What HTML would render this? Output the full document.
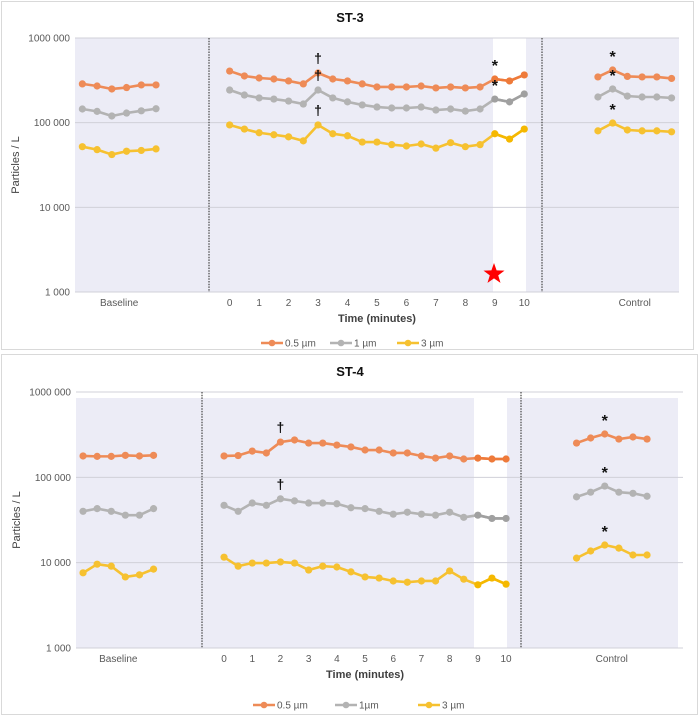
<!DOCTYPE html>
<html><head><meta charset="utf-8">
<style>
body{margin:0;background:#fff;width:700px;height:715px;overflow:hidden;font-family:"Liberation Sans",sans-serif}
svg{display:block}
</style></head>
<body>
<svg id="svg" width="700" height="715" viewBox="0 0 700 715" xmlns="http://www.w3.org/2000/svg"></svg>
<script>
// ST-3 data (particles / L); index 0-5 baseline, 10-30 time 0..10 by 0.5, 35-40 control
const st3Orange = [287,271,250,260,279,279, 407,356,337,328,311,287,386,328,311,287,264,264,264,271,257,264,257,264,328,311,366, 347,419,352,347,347,333];
const st3Grey   = [145,136,120,130,138,146, 243,212,196,190,180,166,243,196,176,162,153,149,149,153,141,145,137,145,190,176,218, 201,250,206,201,201,196];
const st3Yellow = [52,48,42,46,47,49, 94,84,76,72,68,61,94,74,70,59,59,55,53,56,50,58,52,55,74,64,84, 80,99,82,80,80,78];
// ST-4 data
const st4Orange = [178,176,176,181,178,181, 178,180,203,193,259,274,252,252,239,227,209,209,193,193,178,168,178,164,168,164,164, 252,289,322,281,297,281];
const st4Grey   = [40,43,40,36,36,43, 47,40,50,47,56,53,50,50,49,44,43,40,37,39,37,36,39,34,36,33,33, 59,67,79,67,65,60];
const st4Yellow = [7.6,9.6,9.1,6.8,7.2,8.4, 11.6,9.1,9.9,9.9,10.2,9.9,8.2,9.1,8.9,7.8,6.8,6.6,6.1,5.9,6.1,6.1,8.0,6.4,5.5,6.6,5.6, 11.3,13.7,16.1,14.8,12.3,12.3];
const timeTicks = ["0","1","2","3","4","5","6","7","8","9","10"];
const yTicks = [1000000,100000,10000,1000];
const yTickLabels = ["1000 000","100 000","10 000","1 000"];
const seriesNames = ["0.5 µm","1 µm","3 µm"];
const seriesNames4 = ["0.5 µm","1µm","3 µm"];
// annotations: [seriesIndex, pointIndex, symbol]
const st3Marks = [[0,12,"†"],[1,12,"†"],[2,12,"†"],[0,24,"*"],[1,24,"*"],[0,28,"*"],[1,28,"*"],[2,28,"*"]];
const st4Marks = [[0,10,"†"],[1,10,"†"],[0,29,"*"],[1,29,"*"],[2,29,"*"]];

const NS="http://www.w3.org/2000/svg";
const svg=document.getElementById('svg');
function mk(tag,attrs,parent){const e=document.createElementNS(NS,tag);for(const k in attrs)e.setAttribute(k,attrs[k]);(parent||svg).appendChild(e);return e;}
function txt(x,y,s,attrs,parent){const t=mk('text',Object.assign({x:x,y:y},attrs),parent);t.textContent=s;return t;}
const colors=["#ee8b57","#b3b3b3","#f6c130"];
const dark=["#ee7a3a","#a0a0a0","#f5b800"];
// map series index position -> slot index
function slotOf(j){return j<6?j:(j<27?j+4:j+8);}

function drawChart(c){
  const g=mk('g',{},svg);
  
  
  const card=mk('rect',{x:c.cx,y:c.cy,width:c.cw,height:c.ch,fill:'#fff',stroke:'#d9d9d9','stroke-width':1},g);
  
  const yScale=v=>c.top+(6-Math.log10(v))*(c.bottom-c.top)/3;
  const xScale=i=>c.left+(i+0.5)*c.slot;
  // shading
  const s1=mk('rect',{x:c.left,y:c.shadeTop,width:c.bandL-c.left,height:c.bottom-c.shadeTop,fill:'#ececf6'},g);
  
  const s2=mk('rect',{x:c.bandR,y:c.shadeTop,width:c.right-c.bandR,height:c.bottom-c.shadeTop,fill:'#ececf6'},g);
  
  // gridlines
  yTicks.forEach((v,k)=>{
    const y=yScale(v);
    const l=mk('line',{x1:c.left,x2:c.gridR,y1:y,y2:y,stroke:'#d0d0d8','stroke-width':1},g);
    
    const t=txt(c.left-5,y+3.5,yTickLabels[k],{'font-size':'10','fill':'#595959','text-anchor':'end'},g);
    
  });
  // separators
  c.seps.forEach(x=>{
    const l=mk('line',{x1:x,x2:x,y1:c.top,y2:c.bottom,stroke:'#444','stroke-width':1.2,'stroke-dasharray':'1.5,1.2'},g);
    
  });
  // y title
  const yt=txt(0,0,'Particles / L',{'font-size':'11','fill':'#404040','text-anchor':'middle',transform:`translate(${c.left-56},${(c.top+c.bottom)/2}) rotate(-90)`},g);
  
  // title
  const tt=txt(350,c.titleY,c.title,{'font-size':'13','font-weight':'bold','fill':'#111','text-anchor':'middle'},g);
  
  // x labels
  const b=txt(xScale(2.5),c.bottom+14,'Baseline',{'font-size':'10','fill':'#595959','text-anchor':'middle'},g);
  
  const ct=txt(xScale(37.5),c.bottom+14,'Control',{'font-size':'10','fill':'#595959','text-anchor':'middle'},g);
  
  timeTicks.forEach((s,k)=>{
    const t=txt(xScale(10+2*k),c.bottom+14,s,{'font-size':'10','fill':'#595959','text-anchor':'middle'},g);
    
  });
  const xt=txt(xScale(20),c.bottom+30,'Time (minutes)',{'font-size':'11','font-weight':'bold','fill':'#404040','text-anchor':'middle'},g);
  
  // series
  c.series.forEach((vals,si)=>{
    const segs=[[0,6],[6,27],[27,33]];
    segs.forEach(([a,bb])=>{
      const pts=[];for(let j=a;j<bb;j++)pts.push(xScale(slotOf(j))+','+yScale(vals[j]*1000));
      const p=mk('polyline',{points:pts.join(' '),fill:'none',stroke:colors[si],'stroke-width':2.6,'stroke-linejoin':'round'},g);
      
    });
    // highlighted last segment in white band
    const hp=[];for(let j=24;j<27;j++)hp.push(xScale(slotOf(j))+','+yScale(vals[j]*1000));
    const h=mk('polyline',{points:hp.join(' '),fill:'none',stroke:dark[si],'stroke-width':2.6},g);
    
    vals.forEach((v,j)=>{
      const m=mk('circle',{cx:xScale(slotOf(j)),cy:yScale(v*1000),r:3.6,fill:(j>=24&&j<27)?dark[si]:colors[si]},g);
      
    });
  });
  c.marks.forEach(([si,j,s])=>{
    const y=yScale(c.series[si][j]*1000)-(s==='†'?10:8);
    const t=txt(xScale(slotOf(j)),y,s,{'font-size':s==='†'?'14':'16','fill':'#111','text-anchor':'middle','font-weight':'bold'},g);
    
  });
  // legend
  c.legend.forEach((lx,si)=>{
    const l=mk('line',{x1:lx,x2:lx+22,y1:c.legY,y2:c.legY,stroke:colors[si],'stroke-width':2.6},g);
    
    const m=mk('circle',{cx:lx+11,cy:c.legY,r:3.3,fill:colors[si]},g);
    
    const t=txt(lx+24,c.legY+3.5,c.names[si],{'font-size':'10','fill':'#595959'},g);
    
  });
}

drawChart({name:'chart-st3',title:'ST-3',titleY:22,cx:1.5,cy:1.5,cw:692,ch:348,
  left:75,right:679,gridR:679,top:38,bottom:292,shadeTop:38,slot:14.73,bandL:493,bandR:526,
  seps:[209,542],series:[st3Orange,st3Grey,st3Yellow],marks:st3Marks,
  legend:[261,330,397],legY:343,names:seriesNames});
drawChart({name:'chart-st4',title:'ST-4',titleY:376,cx:1.5,cy:354.5,cw:696,ch:360,
  left:76,right:678,gridR:683,top:392,bottom:648,shadeTop:398,slot:14.1,bandL:474,bandR:507,
  seps:[202,521],series:[st4Orange,st4Grey,st4Yellow],marks:st4Marks,
  legend:[253,335,418],legY:705,names:seriesNames4});

// red star
(function(){
  const cx=494,cy=274,R=11,r=4.4,p=[];
  for(let k=0;k<10;k++){const a=-Math.PI/2+k*Math.PI/5,rr=k%2?r:R;p.push((cx+rr*Math.cos(a)).toFixed(1)+','+(cy+rr*Math.sin(a)).toFixed(1));}
  const s=mk('polygon',{points:p.join(' '),fill:'#ff0000'});
  
  
})();
</script>
</body></html>
